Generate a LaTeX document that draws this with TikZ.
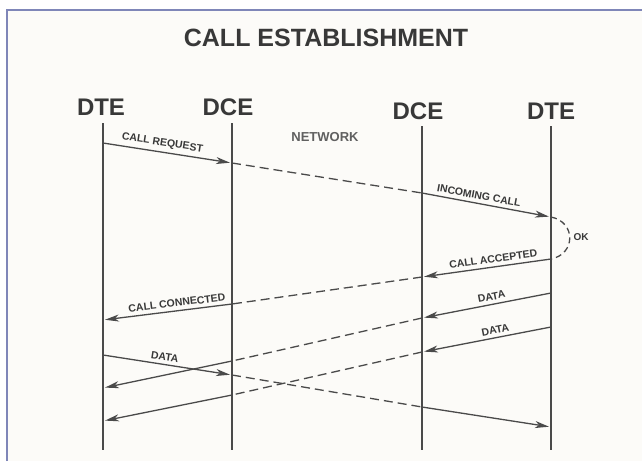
\documentclass[tikz,border=0pt]{standalone}
\usepackage{fontspec}
\setmainfont{Liberation Sans}
\usetikzlibrary{arrows.meta}
\definecolor{ink}{HTML}{383838}
\definecolor{lineink}{HTML}{4A4A4A}
\definecolor{paper}{HTML}{FCFBF8}
\definecolor{framec}{HTML}{7F86B8}
\begin{document}
\begin{tikzpicture}[x=1pt,y=-1pt,
  hdr/.style={font=\fontsize{24}{24}\selectfont\bfseries, text=ink, inner sep=0pt},
  titlestyle/.style={font=\fontsize{25}{25}\selectfont\bfseries, text=ink, inner sep=0pt},
  life/.style={draw=lineink, line width=2.2pt},
  msg/.style={draw=lineink, line width=1.3pt, -{Stealth[length=14pt,width=7pt,inset=4pt]}, shorten >=2pt},
  dsh/.style={draw=lineink, line width=1.3pt, dash pattern=on 9pt off 5pt},
  lbl/.style={font=\fontsize{10.5}{10.5}\selectfont\bfseries, text=ink, sloped, above=2.5pt, inner sep=1pt},
  oklbl/.style={font=\fontsize{10}{10}\selectfont\bfseries, text=ink, inner sep=0pt},
  netlbl/.style={font=\fontsize{13}{13}\selectfont\bfseries, text=ink!80, inner sep=0pt}
]
\useasboundingbox (0,0) rectangle (642,461);
\fill[white] (0,0) rectangle (642,461);
\fill[paper] (7,10) rectangle (642,461);
\draw[framec, line width=2pt] (7,461) -- (7,10) -- (642,10);

\node[titlestyle] (title) at (326,38) {CALL ESTABLISHMENT};

\node[hdr] (h1) at (101,107) {DTE};
\node[hdr] (h2) at (228,107) {DCE};
\node[hdr] (h3) at (418,111) {DCE};
\node[hdr] (h4) at (551,111) {DTE};
\node[netlbl] (net) at (325,137) {NETWORK};

% lifelines
\coordinate (t1) at (103,123); \coordinate (b1) at (103,450);
\coordinate (t2) at (232,123); \coordinate (b2) at (232,450);
\coordinate (t3) at (422,126); \coordinate (b3) at (422,450);
\coordinate (t4) at (551,126); \coordinate (b4) at (551,450);
\draw[life] (t1) -- (b1);
\draw[life] (t2) -- (b2);
\draw[life] (t3) -- (b3);
\draw[life] (t4) -- (b4);

% call request / incoming call
\coordinate (m1a) at (103,143); \coordinate (m1b) at (232,163);
\coordinate (m1c) at (422,193); \coordinate (m1d) at (551,217);
\draw[msg] (m1a) -- node[lbl,pos=0.45] (l1) {CALL REQUEST} (m1b);
\draw[dsh] (m1b) -- (m1c);
\draw[msg] (m1c) -- node[lbl,pos=0.43] (l2) {INCOMING CALL} (m1d);

% OK
\coordinate (m2a) at (551,259);
\draw[dsh, dash pattern=on 6pt off 4pt] (m1d) .. controls (576,222) and (576,254) .. (m2a);
\node[oklbl] (ok) at (581,237) {OK};

% call accepted / call connected
\coordinate (m2b) at (422,277); \coordinate (m2c) at (232,304); \coordinate (m2d) at (103,320);
\draw[msg] (m2a) -- node[lbl,pos=0.44] (l3) {CALL ACCEPTED} (m2b);
\draw[dsh] (m2b) -- (m2c);
\draw[msg] (m2c) -- node[lbl,pos=0.42] (l4) {CALL CONNECTED} (m2d);

% data right 1
\coordinate (m3a) at (551,293); \coordinate (m3b) at (422,318);
\coordinate (m3c) at (232,361); \coordinate (m3d) at (103,388);
\draw[msg] (m3a) -- node[lbl,pos=0.45] (l5) {DATA} (m3b);
\draw[dsh] (m3b) -- (m3c);
\draw[msg] (m3c) -- (m3d);

% data right 2
\coordinate (m4a) at (551,327); \coordinate (m4b) at (422,352);
\coordinate (m4c) at (232,395); \coordinate (m4d) at (103,421);
\draw[msg] (m4a) -- node[lbl,pos=0.42] (l6) {DATA} (m4b);
\draw[dsh] (m4b) -- (m4c);
\draw[msg] (m4c) -- (m4d);

% data left
\coordinate (m5a) at (103,355); \coordinate (m5b) at (232,375);
\coordinate (m5c) at (422,407); \coordinate (m5d) at (551,427);
\draw[msg] (m5a) -- node[lbl,pos=0.47] (l7) {DATA} (m5b);
\draw[dsh] (m5b) -- (m5c);
\draw[msg] (m5c) -- (m5d);
\end{tikzpicture}
\end{document}
